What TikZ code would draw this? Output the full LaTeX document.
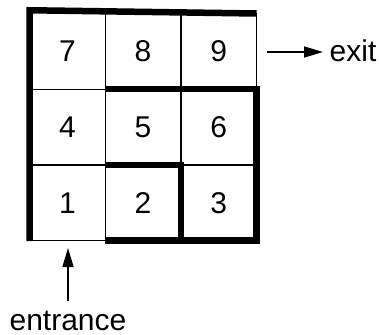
\documentclass[tikz,border=0pt]{standalone}
\usepackage{fontspec}
\setmainfont{Liberation Sans}
\usetikzlibrary{arrows.meta}
\begin{document}
\begin{tikzpicture}[x=1pt,y=-1pt,
  cell/.style={minimum width=75.7pt,minimum height=75.7pt,inner sep=0pt,outer sep=0pt,
    font=\fontsize{30}{36}\selectfont},
  lbl/.style={inner sep=0pt,font=\fontsize{30}{36}\selectfont},
  thin/.style={line width=1.2pt},
  thick/.style={line width=6.5pt,line join=miter},
  arr/.style={line width=1.6pt,-{Triangle[length=19pt,width=11pt]}}]
\useasboundingbox (0,0) rectangle (379,334);
% cells
\node[cell] (c7) at (67.35,51.35) {7};
\node[cell] (c8) at (143.05,51.35) {8};
\node[cell] (c9) at (218.75,51.35) {9};
\node[cell] (c4) at (67.35,127.05) {4};
\node[cell] (c5) at (143.05,127.05) {5};
\node[cell] (c6) at (218.75,127.05) {6};
\node[cell] (c1) at (67.35,202.75) {1};
\node[cell] (c2) at (143.05,202.75) {2};
\node[cell] (c3) at (218.75,202.75) {3};
% thin lines
\draw[thin] (c8.north west) -- (c2.south west);
\draw[thin] (c9.north west) -- (c6.south west);
\draw[thin] (c9.north east) -- (c9.south east);
\draw[thin] (c4.north west) -- (c4.north east);
\draw[thin] (c1.north west) -- (c1.north east);
\draw[thin] (c3.north west) -- (c3.north east);
\draw[thin] (c1.south west) -- (c1.south east);
% thick lines
\draw[thick] ([yshift=-0.5pt]c1.south west) -- ([yshift=3.25pt]c7.north west) -- (c9.north east);
\draw[thick] (c5.north west) -- (c6.north east) -- (c3.south east) -- (c2.south west);
\draw[thick] (c2.north west) -- (c2.north east) -- (c2.south east);
% labels and arrows
\node[lbl,anchor=base west] (exit) at (329.5,61.5) {exit};
\coordinate (exitstart) at (267,52);
\draw[arr] (exitstart) -- ([xshift=-6.5pt]exit.west |- exitstart);
\node[lbl,anchor=base] (entrance) at (68,330) {entrance};
\coordinate (entrytip) at (68,248);
\draw[arr] ([yshift=9pt]entrance.north -| entrytip) -- (entrytip);
\end{tikzpicture}
\end{document}
